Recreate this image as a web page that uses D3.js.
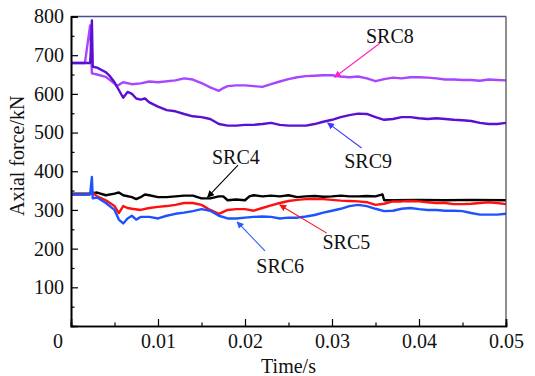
<!DOCTYPE html>
<html>
<head>
<meta charset="utf-8">
<script src="https://cdn.jsdelivr.net/npm/d3@7"></script>
<style>
  body { margin: 0; background: #fff; }
  svg text { font-family: "Liberation Serif", "Times New Roman", Times, "DejaVu Serif", serif !important; }
</style>
</head>
<body>
<div class="canvas"></div>
<script>
// time samples (s) and axial force (kN)
var src8T = [0, 0.0016, 0.0022, 0.0024, 0.003, 0.004, 0.005, 0.00525, 0.006, 0.007, 0.008, 0.009, 0.010, 0.012, 0.013, 0.014, 0.015, 0.016, 0.017, 0.0175, 0.018, 0.019, 0.020, 0.021, 0.022, 0.023, 0.024, 0.025, 0.026, 0.027, 0.028, 0.029, 0.030, 0.031, 0.032, 0.033, 0.034, 0.035, 0.036, 0.037, 0.038, 0.039, 0.040, 0.041, 0.042, 0.043, 0.044, 0.045, 0.046, 0.047, 0.048, 0.049, 0.050];
var src8F = [680, 680, 777, 653, 650, 644, 627, 620, 630, 625, 627, 632, 630, 635, 640, 637, 628, 617, 608, 615, 620, 622, 622, 620, 618, 625, 632, 638, 643, 646, 647, 648, 648, 645, 643, 645, 640, 633, 638, 642, 640, 643, 643, 642, 640, 637, 637, 636, 636, 634, 637, 636, 635];

var src9T = [0, 0.0016, 0.0022, 0.0023, 0.0024, 0.0025, 0.003, 0.004, 0.0045, 0.005, 0.0055, 0.006, 0.0065, 0.007, 0.0075, 0.008, 0.0085, 0.009, 0.010, 0.011, 0.012, 0.013, 0.014, 0.015, 0.016, 0.017, 0.018, 0.019, 0.020, 0.021, 0.022, 0.023, 0.024, 0.025, 0.026, 0.027, 0.028, 0.029, 0.030, 0.031, 0.032, 0.033, 0.034, 0.035, 0.036, 0.037, 0.038, 0.039, 0.040, 0.041, 0.042, 0.043, 0.044, 0.045, 0.046, 0.047, 0.048, 0.049, 0.050];
var src9F = [680, 680, 680, 720, 790, 670, 668, 656, 645, 630, 610, 590, 605, 600, 588, 585, 588, 578, 567, 558, 555, 548, 542, 540, 535, 522, 518, 518, 520, 520, 522, 525, 520, 518, 518, 518, 522, 528, 533, 540, 545, 549, 548, 540, 533, 535, 540, 540, 537, 535, 537, 535, 533, 532, 530, 525, 522, 522, 525];

var src4T = [0, 0.002, 0.0025, 0.003, 0.004, 0.005, 0.0055, 0.006, 0.007, 0.0075, 0.008, 0.0085, 0.009, 0.010, 0.011, 0.012, 0.013, 0.014, 0.015, 0.016, 0.017, 0.0175, 0.018, 0.019, 0.020, 0.0205, 0.021, 0.022, 0.023, 0.024, 0.025, 0.026, 0.027, 0.028, 0.029, 0.030, 0.031, 0.032, 0.033, 0.034, 0.035, 0.0358, 0.036, 0.037, 0.040, 0.043, 0.046, 0.050];
var src4F = [342, 342, 343, 345, 338, 342, 345, 338, 333, 328, 333, 340, 338, 333, 333, 335, 337, 337, 330, 330, 335, 335, 325, 327, 325, 335, 338, 335, 337, 335, 338, 333, 335, 336, 334, 335, 337, 335, 335, 336, 335, 340, 325, 325, 326, 325, 326, 325];

var src5T = [0, 0.002, 0.0025, 0.003, 0.004, 0.005, 0.0055, 0.006, 0.0065, 0.007, 0.008, 0.009, 0.010, 0.011, 0.012, 0.013, 0.014, 0.015, 0.016, 0.017, 0.018, 0.019, 0.020, 0.021, 0.022, 0.023, 0.024, 0.025, 0.026, 0.027, 0.028, 0.029, 0.030, 0.031, 0.032, 0.033, 0.034, 0.035, 0.036, 0.037, 0.038, 0.039, 0.040, 0.041, 0.042, 0.043, 0.044, 0.045, 0.046, 0.047, 0.048, 0.049, 0.050];
var src5F = [340, 340, 345, 335, 325, 310, 292, 310, 305, 303, 300, 305, 308, 310, 313, 318, 318, 313, 300, 290, 300, 302, 302, 298, 305, 312, 318, 323, 326, 328, 328, 328, 326, 324, 323, 322, 320, 313, 316, 322, 322, 323, 322, 320, 318, 318, 315, 315, 316, 318, 320, 318, 315];

var src6T = [0, 0.002, 0.0022, 0.0024, 0.0025, 0.003, 0.004, 0.005, 0.0055, 0.006, 0.0065, 0.007, 0.0075, 0.008, 0.009, 0.010, 0.011, 0.012, 0.013, 0.014, 0.015, 0.016, 0.017, 0.018, 0.019, 0.020, 0.021, 0.022, 0.023, 0.024, 0.025, 0.026, 0.027, 0.028, 0.029, 0.030, 0.031, 0.032, 0.033, 0.034, 0.035, 0.036, 0.037, 0.038, 0.039, 0.040, 0.041, 0.042, 0.043, 0.044, 0.045, 0.046, 0.047, 0.048, 0.049, 0.050];
var src6F = [340, 340, 340, 385, 330, 332, 318, 300, 275, 265, 278, 285, 275, 282, 282, 278, 285, 290, 293, 297, 302, 298, 285, 278, 278, 280, 282, 283, 282, 278, 280, 280, 283, 287, 293, 298, 303, 310, 313, 310, 303, 297, 298, 303, 305, 302, 300, 300, 298, 298, 297, 292, 288, 288, 288, 290];

var xTicks = [0.01, 0.02, 0.03, 0.04, 0.05];
var yTicks = [100, 200, 300, 400, 500, 600, 700, 800];

var series = [
  { name: 'SRC8', t: src8T, f: src8F, color: '#a845ff' },
  { name: 'SRC9', t: src9T, f: src9F, color: '#5a0fd2' },
  { name: 'SRC4', t: src4T, f: src4F, color: '#000000' },
  { name: 'SRC5', t: src5T, f: src5F, color: '#ff0f0f' },
  { name: 'SRC6', t: src6T, f: src6F, color: '#1f52ff' }
];

// label text position (left, baseline) and arrow (from -> to), in data units
var notes = [
  { name: 'SRC8', tx: 0.0339, ty: 731, from: [0.0355, 731], to: [0.0303, 643], color: '#ff1fc8' },
  { name: 'SRC9', tx: 0.0314, ty: 408, from: [0.0334, 460], to: [0.0295, 525], color: '#3a3aff' },
  { name: 'SRC4', tx: 0.0162, ty: 419, from: [0.0192, 416], to: [0.0157, 333], color: '#000000' },
  { name: 'SRC5', tx: 0.0289, ty: 199, from: [0.0294, 240], to: [0.0240, 313], color: '#ff0f0f' },
  { name: 'SRC6', tx: 0.0213, ty: 137, from: [0.0223, 194], to: [0.0191, 269], color: '#2a5cff' }
];

var width = 535, height = 376;
var margin = { left: 71, right: 29, top: 16.5, bottom: 50 };

var svg = d3.select('.canvas').append('svg')
  .attr('width', width)
  .attr('height', height);

var x = d3.scaleLinear().domain([0, 0.05]).range([margin.left, width - margin.right]);
var y = d3.scaleLinear().domain([0, 800]).range([height - margin.bottom, margin.top]);

var defs = svg.append('defs');
notes.forEach(function(n, i) {
  defs.append('marker')
    .attr('id', 'arr' + i)
    .attr('viewBox', '0 0 10 10')
    .attr('refX', 9).attr('refY', 5)
    .attr('markerWidth', 7).attr('markerHeight', 7)
    .attr('markerUnits', 'userSpaceOnUse')
    .attr('orient', 'auto')
    .append('path')
      .attr('d', 'M0,0 L10,5 L0,10 Z')
      .attr('fill', n.color);
});

// series lines
var line = d3.line()
  .x(function(d) { return x(d[0]); })
  .y(function(d) { return y(d[1]); });

svg.append('g').selectAll('path')
  .data(series)
  .enter()
  .append('path')
    .attr('d', function(s) { return line(d3.zip(s.t, s.f)); })
    .attr('fill', 'none')
    .attr('stroke', function(s) { return s.color; })
    .attr('stroke-width', 2.4)
    .attr('stroke-linejoin', 'round');

// frame: top blue-ish, right grey
svg.append('line')
  .attr('x1', x(0)).attr('x2', x(0.05))
  .attr('y1', y(800)).attr('y2', y(800))
  .attr('stroke', '#4c4c9c').attr('stroke-width', 1.5);
svg.append('line')
  .attr('x1', x(0.05)).attr('x2', x(0.05))
  .attr('y1', y(800)).attr('y2', y(0))
  .attr('stroke', '#444').attr('stroke-width', 1.2);

// axes with inward ticks
svg.append('g')
  .attr('transform', 'translate(0,' + y(0) + ')')
  .call(d3.axisBottom(x).tickValues([0.005, 0.015, 0.025, 0.035, 0.045]).tickSize(-3.5).tickFormat(''));
svg.append('g')
  .attr('transform', 'translate(0,' + y(0) + ')')
  .call(d3.axisBottom(x).tickValues(xTicks).tickSize(-7).tickFormat(d3.format('.2f')))
  .call(function(g) {
    g.selectAll('text').attr('font-size', 20).attr('fill', '#111')
      .attr('y', 8).attr('dy', '0.71em');
  });

svg.append('g')
  .attr('transform', 'translate(' + x(0) + ',0)')
  .call(d3.axisLeft(y).tickValues([50, 150, 250, 350, 450, 550, 650, 750]).tickSize(-3.5).tickFormat(''));
svg.append('g')
  .attr('transform', 'translate(' + x(0) + ',0)')
  .call(d3.axisLeft(y).tickValues(yTicks).tickSize(-7).tickPadding(8))
  .call(function(g) {
    g.selectAll('text').attr('font-size', 20).attr('fill', '#111').attr('x', -7);
  });

svg.selectAll('.domain').attr('stroke', '#000').attr('stroke-width', 1.6);
svg.selectAll('.tick line').attr('stroke', '#000').attr('stroke-width', 1.2);

// origin label
svg.append('text')
  .attr('x', x(0) - 13).attr('y', y(0) + 8)
  .attr('dy', '0.71em')
  .attr('text-anchor', 'middle')
  .attr('font-size', 20).attr('fill', '#111')
  .text('0');

// axis titles
svg.append('text')
  .attr('x', x(0.025)).attr('y', height - 3)
  .attr('text-anchor', 'middle')
  .attr('font-size', 20).attr('fill', '#111')
  .text('Time/s');

svg.append('text')
  .attr('transform', 'translate(24,' + y(440) + ') rotate(-90)')
  .attr('text-anchor', 'middle')
  .attr('font-size', 20).attr('fill', '#111')
  .text('Axial force/kN');

// annotations
notes.forEach(function(n, i) {
  svg.append('line')
    .attr('x1', x(n.from[0])).attr('y1', y(n.from[1]))
    .attr('x2', x(n.to[0])).attr('y2', y(n.to[1]))
    .attr('stroke', n.color).attr('stroke-width', 1.1)
    .attr('marker-end', 'url(#arr' + i + ')');
  svg.append('text')
    .attr('x', x(n.tx)).attr('y', y(n.ty))
    .attr('font-size', 20).attr('fill', '#111')
    .text(n.name);
});
</script>
</body>
</html>
